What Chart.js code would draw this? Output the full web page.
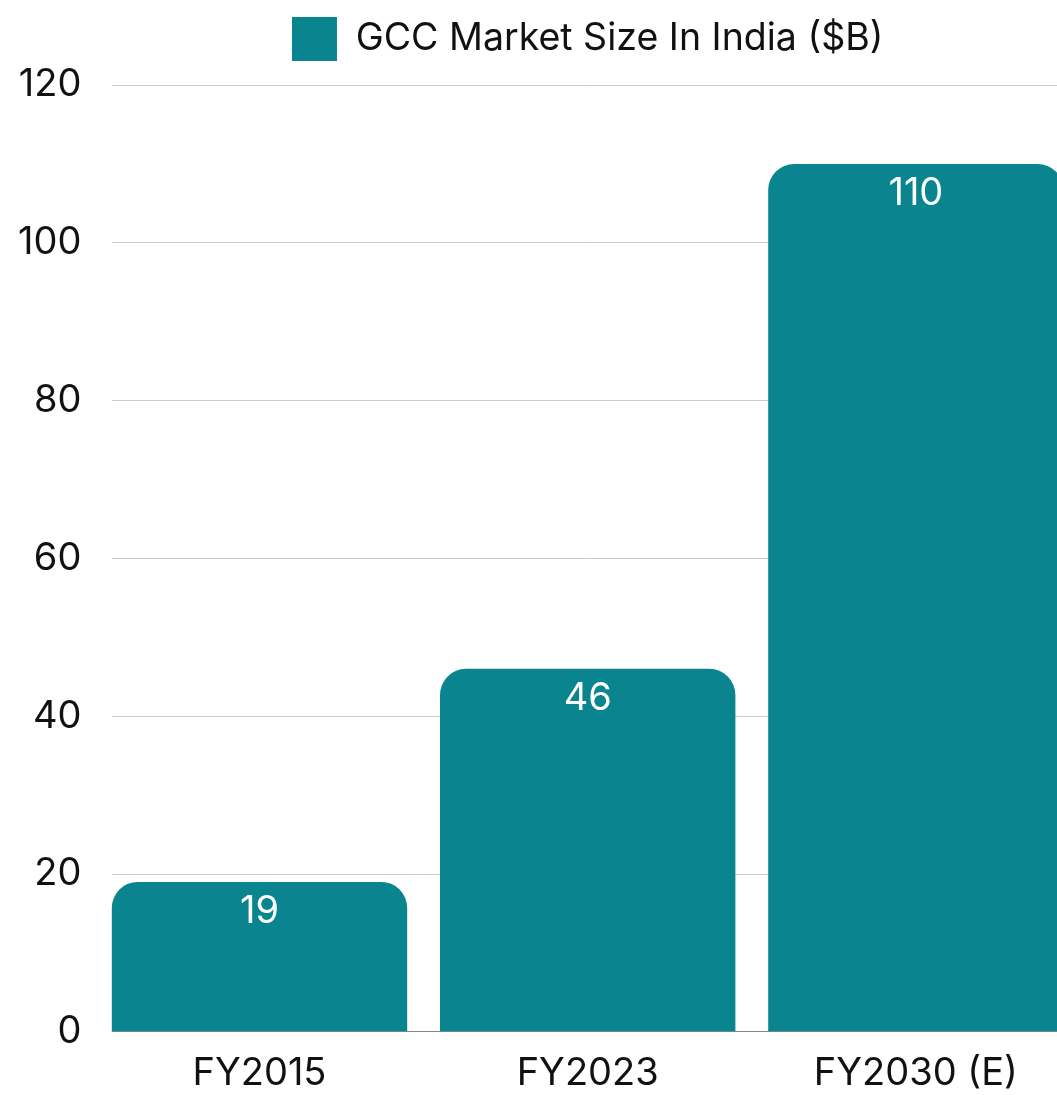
<!DOCTYPE html>
<html>
<head>
<meta charset="utf-8">
<script src="https://cdn.jsdelivr.net/npm/chart.js@4.4.0/dist/chart.umd.min.js"></script>
<style>
  html, body { margin: 0; padding: 0; background: #fff; overflow: hidden; }
  #wrap { position: relative; width: 1080px; height: 1095px; }
  canvas { display: block; }
</style>
</head>
<body>
<div id="wrap"><canvas id="c"></canvas></div>
<script>
const categories = ["FY2015", "FY2023", "FY2030 (E)"];
const seriesName = "GCC Market Size In India ($B)";
const values = [19, 46, 110];
const yTicks = [0, 20, 40, 60, 80, 100, 120];

const barColor = "#0a848f";
const FONT = "Inter, 'Noto Sans', sans-serif";

const valueLabels = {
  id: 'valueLabels',
  afterDatasetsDraw(chart) {
    const ctx = chart.ctx;
    const meta = chart.getDatasetMeta(0);
    ctx.save();
    ctx.fillStyle = '#ffffff';
    ctx.font = '38px ' + FONT;
    ctx.textAlign = 'center';
    ctx.textBaseline = 'middle';
    meta.data.forEach((bar, i) => {
      ctx.fillText(String(chart.data.datasets[0].data[i]), bar.x, bar.y + 30);
    });
    ctx.restore();
  }
};

const gridTrim = {
  id: 'gridTrim',
  beforeDatasetsDraw(chart) {
    const meta = chart.getDatasetMeta(0);
    const first = meta.data[0];
    if (!first) return;
    const left = first.x - first.width / 2;
    const a = chart.chartArea;
    const ctx = chart.ctx;
    ctx.save();
    ctx.fillStyle = '#ffffff';
    ctx.fillRect(a.left - 2, a.top - 2, left - a.left + 2, a.bottom - a.top + 6);
    ctx.restore();
  }
};

new Chart(document.getElementById('c'), {
  type: 'bar',
  data: {
    labels: categories,
    datasets: [{
      label: seriesName,
      data: values,
      backgroundColor: barColor,
      borderWidth: 0,
      borderRadius: { topLeft: 26, topRight: 26, bottomLeft: 0, bottomRight: 0 },
      borderSkipped: 'start',
      barPercentage: 0.9,
      categoryPercentage: 1.0
    }]
  },
  options: {
    responsive: true,
    maintainAspectRatio: false,
    animation: false,
    layout: { padding: { top: 1, right: 0, bottom: -21, left: 4 } },
    plugins: {
      legend: {
        display: true,
        position: 'top',
        fullSize: false,
        labels: {
          color: '#111',
          font: { family: FONT, size: 37.5 },
          boxWidth: 45,
          boxHeight: 44,
          padding: 16
        }
      },
      title: {
        display: true,
        text: '',
        position: 'top',
        weight: 500,
        font: { size: 10, lineHeight: 1 },
        padding: { top: 4, bottom: 0 }
      },
      tooltip: { enabled: false }
    },
    scales: {
      x: {
        grid: { display: false, drawTicks: false },
        border: { display: true, color: '#888', width: 1 },
        ticks: { color: '#111', font: { family: FONT, size: 38, lineHeight: 0.9 }, padding: 25 }
      },
      y: {
        min: 0,
        max: 120,
        afterBuildTicks(scale) { scale.ticks = yTicks.map(v => ({ value: v })); },
        grid: { color: '#cccccc', lineWidth: 1, drawTicks: false },
        border: { display: false },
        ticks: { color: '#111', font: { family: FONT, size: 38 }, padding: 14 }
      }
    }
  },
  plugins: [gridTrim, valueLabels]
});
</script>
</body>
</html>
